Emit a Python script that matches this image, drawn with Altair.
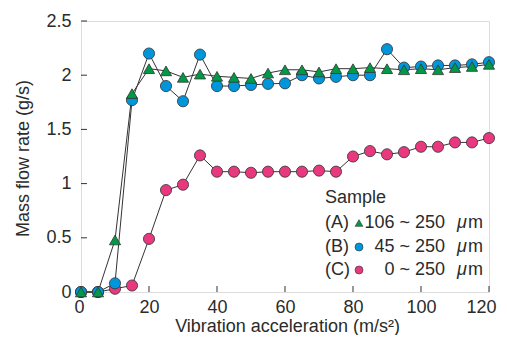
import altair as alt
import pandas as pd

x_vals = [0, 5, 10, 15, 20, 25, 30, 35, 40, 45, 50, 55, 60, 65, 70, 75, 80, 85, 90, 95, 100, 105, 110, 115, 120]
series_c = [0.0, 0.0, 0.03, 0.06, 0.49, 0.94, 0.99, 1.26, 1.11, 1.11, 1.10, 1.11, 1.11, 1.11, 1.12, 1.11,
            1.25, 1.30, 1.27, 1.29, 1.34, 1.34, 1.38, 1.38, 1.42]
series_b = [0.0, 0.0, 0.08, 1.77, 2.20, 1.90, 1.76, 2.19, 1.90, 1.90, 1.91, 1.92, 1.925, 2.0, 1.97, 1.985,
            2.0, 2.0, 2.24, 2.07, 2.08, 2.09, 2.09, 2.10, 2.12]
series_a = [0.0, 0.0, 0.48, 1.83, 2.06, 2.04, 1.98, 2.01, 1.99, 1.98, 1.97, 2.02, 2.05, 2.05, 2.03, 2.06,
            2.06, 2.07, 2.06, 2.05, 2.06, 2.05, 2.07, 2.08, 2.10]

series_names = ["C", "B", "A"]
series_colors = ["#e8387e", "#0096db", "#009a46"]
series_shapes = ["circle", "circle", "triangle-up"]
legend_tags = ["(A)", "(B)", "(C)"]
legend_ranges = ["106 ~ 250", "45 ~ 250", "0 ~ 250"]
legend_keys = ["A", "B", "C"]

x_ticks = [0, 20, 40, 60, 80, 100, 120]
y_ticks = [0, 0.5, 1, 1.5, 2, 2.5]

rows = []
for name, vals in zip(series_names, [series_c, series_b, series_a]):
    for xv, yv in zip(x_vals, vals):
        rows.append({"x": xv, "y": yv, "s": name})
df = pd.DataFrame(rows)

W, H = 408, 271
FONT = "Liberation Sans"
TXT = "#2b2b2b"
X_TICK_LEN = 6 * 2.5 / H      # inward tick length expressed in data units
Y_TICK_LEN = 6 * 120 / W

xs = alt.Scale(domain=[0, 120], nice=False, zero=False)
ys = alt.Scale(domain=[0, 2.5], nice=False, zero=False)
col = alt.Scale(domain=series_names, range=series_colors)
shp = alt.Scale(domain=series_names, range=series_shapes)

x_enc = alt.X("x:Q", scale=xs, axis=alt.Axis(
    values=x_ticks, title="Vibration acceleration (m/s²)", grid=False, domain=False, ticks=False,
    tickSize=0, labelPadding=20, labelBaseline="alphabetic", labelFlush=True, labelFlushOffset=7,
    labelFontSize=18, labelFont=FONT, labelColor=TXT, titleFont=FONT, titleFontSize=18,
    titleFontWeight="normal", titleColor=TXT, titleX=206, titleY=39, titleBaseline="alphabetic",
    titleAlign="center"))
y_enc = alt.Y("y:Q", scale=ys, axis=alt.Axis(
    values=y_ticks, format="~g", title="Mass flow rate (g/s)", grid=False, domain=False, ticks=False,
    tickSize=0, labelPadding=10, labelFlush=False, labelFontSize=18, labelFont=FONT, labelColor=TXT,
    labelBaseline="middle", titleFont=FONT, titleFontSize=18, titleFontWeight="normal", titleColor=TXT,
    titleX=-58, titleY=137, titleAngle=-90, titleAlign="center", titleBaseline="middle"))

base = alt.Chart(df)
lines = base.mark_line(color="#333333", strokeWidth=1).encode(
    x=x_enc, y=y_enc, detail="s:N")
points = base.transform_calculate(
    idx="datum.s == 'C' ? 0 : (datum.s == 'B' ? 1 : 2)"
).mark_point(filled=True, size=125, stroke="#333333", strokeWidth=0.8, opacity=1).encode(
    x=alt.X("x:Q", scale=xs), y=alt.Y("y:Q", scale=ys),
    fill=alt.Fill("s:N", scale=col, legend=None),
    shape=alt.Shape("s:N", scale=shp, legend=None),
    order=alt.Order("idx:Q"))

xt = alt.Chart(pd.DataFrame({"t": x_ticks})).mark_rule(color="#333333", strokeWidth=1).encode(
    x=alt.X("t:Q", scale=xs), y=alt.datum(0), y2=alt.datum(X_TICK_LEN))
yt = alt.Chart(pd.DataFrame({"t": y_ticks})).mark_rule(color="#333333", strokeWidth=1).encode(
    y=alt.Y("t:Q", scale=ys), x=alt.datum(0), x2=alt.datum(Y_TICK_LEN))

one = alt.Data(values=[{"a": 1}])
legend_layers = [
    alt.Chart(one).mark_text(text="Sample", font=FONT, fontSize=18, color=TXT, align="left",
                             baseline="middle").encode(x=alt.value(244), y=alt.value(177))
]
row_y = [202, 226, 249]
key_color = dict(zip(series_names, series_colors))
key_shape = dict(zip(series_names, series_shapes))
for tag, rng, key, ry in zip(legend_tags, legend_ranges, legend_keys, row_y):
    legend_layers.append(alt.Chart(one).mark_text(text=tag, font=FONT, fontSize=18, color=TXT, align="left",
                                                  baseline="middle").encode(x=alt.value(244), y=alt.value(ry)))
    legend_layers.append(alt.Chart(one).mark_point(filled=True, size=60 if key_shape[key] == "triangle-up" else 64,
                                                   shape=key_shape[key], fill=key_color[key], stroke="#333333",
                                                   strokeWidth=0.6, opacity=1).encode(
        x=alt.value(278), y=alt.value(ry)))
    legend_layers.append(alt.Chart(one).mark_text(text=rng, font=FONT, fontSize=18, color=TXT, align="right",
                                                  baseline="middle").encode(x=alt.value(364), y=alt.value(ry)))
    legend_layers.append(alt.Chart(one).mark_text(text="μ", font=FONT, fontSize=18, color=TXT, align="left",
                                                  fontStyle="italic", baseline="middle").encode(
        x=alt.value(376), y=alt.value(ry)))
    legend_layers.append(alt.Chart(one).mark_text(text="m", font=FONT, fontSize=18, color=TXT, align="left",
                                                  baseline="middle").encode(
        x=alt.value(387), y=alt.value(ry)))

chart = alt.layer(lines, xt, yt, points, *legend_layers).properties(
    width=W, height=H,
    autosize=alt.AutoSizeParams(type="none"),
    padding={"left": 73, "top": 13, "right": 10, "bottom": 43},
).configure_view(stroke="#333333", strokeWidth=1).configure(background="white")

chart.save("out.html", embed_options={"renderer": "svg", "actions": False})
